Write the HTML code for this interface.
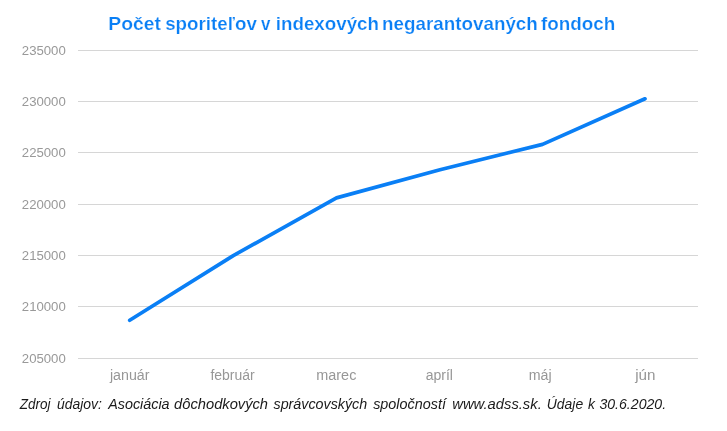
<!DOCTYPE html>
<html><head><meta charset="utf-8">
<style>
html,body{margin:0;padding:0;background:#fff;width:727px;height:431px;overflow:hidden}
svg{display:block;will-change:transform}
text{font-family:"Liberation Sans",sans-serif}
.yl{font-size:13.6px;fill:#999999;text-anchor:end}
.xl{font-size:14px;fill:#979797;text-anchor:middle}
.ttl{font-size:18.4px;font-weight:bold;fill:#0a7ff5;stroke:#fff;stroke-width:0.22px}
.ft{font-size:14.5px;font-style:italic;fill:#1a1a1a}
</style></head>
<body>
<svg width="727" height="431" viewBox="0 0 727 431">
<g class="ttl">
<text x="108.27" y="29.8" textLength="52.64" lengthAdjust="spacingAndGlyphs">Počet</text>
<text x="165.19" y="29.8" textLength="91.63" lengthAdjust="spacingAndGlyphs">sporiteľov</text>
<text x="261.10" y="29.8" textLength="9.43" lengthAdjust="spacingAndGlyphs">v</text>
<text x="275.78" y="29.8" textLength="103.22" lengthAdjust="spacingAndGlyphs">indexových</text>
<text x="382.09" y="29.8" textLength="155.73" lengthAdjust="spacingAndGlyphs">negarantovaných</text>
<text x="541.00" y="29.8" textLength="74.32" lengthAdjust="spacingAndGlyphs">fondoch</text>
</g>
<g stroke="#d6d6d6" stroke-width="1">
<line x1="78" x2="698" y1="50.5" y2="50.5"/>
<line x1="78" x2="698" y1="101.5" y2="101.5"/>
<line x1="78" x2="698" y1="152.5" y2="152.5"/>
<line x1="78" x2="698" y1="204.5" y2="204.5"/>
<line x1="78" x2="698" y1="255.5" y2="255.5"/>
<line x1="78" x2="698" y1="306.5" y2="306.5"/>
<line x1="78" x2="698" y1="358.5" y2="358.5"/>
</g>
<g class="yl">
<text x="65.8" y="55.15" textLength="44" lengthAdjust="spacingAndGlyphs">235000</text>
<text x="65.8" y="106.15" textLength="44" lengthAdjust="spacingAndGlyphs">230000</text>
<text x="65.8" y="157.15" textLength="44" lengthAdjust="spacingAndGlyphs">225000</text>
<text x="65.8" y="209.15" textLength="44" lengthAdjust="spacingAndGlyphs">220000</text>
<text x="65.8" y="260.15" textLength="44" lengthAdjust="spacingAndGlyphs">215000</text>
<text x="65.8" y="311.15" textLength="44" lengthAdjust="spacingAndGlyphs">210000</text>
<text x="65.8" y="363.15" textLength="44" lengthAdjust="spacingAndGlyphs">205000</text>
</g>
<g class="xl">
<text x="129.75" y="380" textLength="39.6" lengthAdjust="spacingAndGlyphs">január</text>
<text x="232.55" y="380" textLength="44.3" lengthAdjust="spacingAndGlyphs">február</text>
<text x="336.3" y="380" textLength="40.1" lengthAdjust="spacingAndGlyphs">marec</text>
<text x="439.3" y="380" textLength="27.3" lengthAdjust="spacingAndGlyphs">apríl</text>
<text x="540.1" y="380" textLength="22.9" lengthAdjust="spacingAndGlyphs">máj</text>
<text x="645.3" y="380" textLength="20.3" lengthAdjust="spacingAndGlyphs">jún</text>
</g>
<polyline fill="none" stroke="#0a7ff5" stroke-width="3.7" stroke-linecap="round" stroke-linejoin="round"
 points="129.7,320.3 233.3,255.6 336.5,197.9 440,169.8 542.5,144.4 645,98.8"/>
<g class="ft">
<text x="19.70" y="408.8" textLength="30.77" lengthAdjust="spacingAndGlyphs">Zdroj</text>
<text x="57.00" y="408.8" textLength="44.93" lengthAdjust="spacingAndGlyphs">údajov:</text>
<text x="108.16" y="408.8" textLength="61.40" lengthAdjust="spacingAndGlyphs">Asociácia</text>
<text x="174.10" y="408.8" textLength="93.94" lengthAdjust="spacingAndGlyphs">dôchodkových</text>
<text x="273.50" y="408.8" textLength="93.70" lengthAdjust="spacingAndGlyphs">správcovských</text>
<text x="373.20" y="408.8" textLength="72.69" lengthAdjust="spacingAndGlyphs">spoločností</text>
<text x="452.30" y="408.8" textLength="89.45" lengthAdjust="spacingAndGlyphs">www.adss.sk.</text>
<text x="546.80" y="408.8" textLength="36.39" lengthAdjust="spacingAndGlyphs">Údaje</text>
<text x="587.90" y="408.8" textLength="6.9" lengthAdjust="spacingAndGlyphs">k</text>
<text x="599.40" y="408.8" textLength="66.75" lengthAdjust="spacingAndGlyphs">30.6.2020.</text>
</g>
</svg>
</body></html>
